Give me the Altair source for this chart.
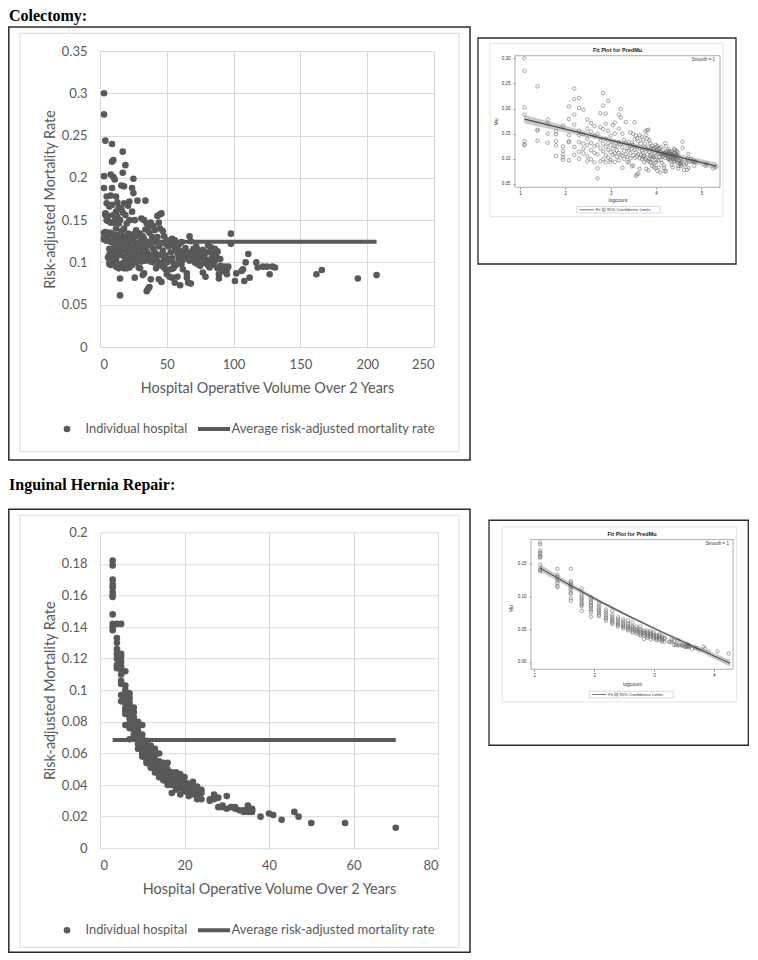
import altair as alt
import pandas as pd

# ---------------- data: Colectomy ----------------
col_volumes = [3, 4, 5, 6, 7, 8, 9, 10, 11, 12,
               13, 14, 15, 16, 17, 18, 19, 20, 21, 22,
               23, 24, 25, 26, 27, 28, 29, 30, 31, 32,
               33, 34, 35, 36, 37, 38, 39, 40, 41, 42,
               43, 44, 45, 46, 47, 48, 49, 50, 51, 52,
               53, 54, 55, 56, 57, 58, 59, 60, 61, 62,
               63, 64, 65, 66, 67, 68, 69, 70, 71, 72,
               73, 74, 75, 76, 77, 78, 79, 80, 81, 82,
               83, 84, 85, 86, 87, 88, 89, 90,
               92, 93, 94, 95, 96, 98,
               101, 102, 106, 107, 108, 109, 111, 112,
               117, 118, 122, 125, 127, 129, 131,
               162, 166, 193, 207]
col_rates = [
    [0.300, 0.275, 0.202, 0.188, 0.135, 0.129, 0.127],
    [0.244, 0.158, 0.156, 0.136],
    [0.178, 0.170, 0.150, 0.132],
    [0.155, 0.149, 0.135, 0.127, 0.106],
    [0.166, 0.125, 0.116, 0.109, 0.103, 0.098],
    [0.204, 0.179, 0.147, 0.135, 0.133, 0.097],
    [0.240, 0.219, 0.188, 0.168, 0.124, 0.108],
    [0.221, 0.201, 0.156, 0.147, 0.133, 0.114, 0.100],
    [0.198, 0.149, 0.130, 0.120, 0.111],
    [0.178, 0.160, 0.140, 0.127, 0.105, 0.095],
    [0.171, 0.154, 0.132, 0.117, 0.099],
    [0.165, 0.146, 0.125, 0.112, 0.093],
    [0.150, 0.128, 0.109, 0.081, 0.061],
    [0.191, 0.163, 0.137, 0.121, 0.095],
    [0.231, 0.206, 0.159, 0.130, 0.115, 0.099],
    [0.190, 0.170, 0.140, 0.124, 0.107, 0.093],
    [0.215, 0.156, 0.131, 0.118, 0.102],
    [0.146, 0.127, 0.113, 0.098, 0.093],
    [0.167, 0.134, 0.120, 0.108],
    [0.172, 0.150, 0.126, 0.111, 0.094],
    [0.125, 0.117, 0.104],
    [0.188, 0.160, 0.133, 0.112, 0.097],
    [0.199, 0.182, 0.129, 0.108],
    [0.150, 0.123, 0.106, 0.082],
    [0.138, 0.116, 0.100],
    [0.173, 0.131, 0.109],
    [0.121, 0.104, 0.094],
    [0.134, 0.117, 0.093],
    [0.152, 0.126, 0.111, 0.101],
    [0.131, 0.120, 0.085],
    [0.150, 0.128, 0.107, 0.087],
    [0.173, 0.139, 0.118, 0.102],
    [0.146, 0.113, 0.066],
    [0.141, 0.124, 0.105, 0.069],
    [0.135, 0.109, 0.071],
    [0.147, 0.120, 0.101, 0.080],
    [0.130, 0.108],
    [0.143, 0.116, 0.100],
    [0.138, 0.112, 0.104],
    [0.124, 0.106, 0.093],
    [0.155, 0.130, 0.101],
    [0.147, 0.119, 0.098, 0.080],
    [0.157, 0.140, 0.109],
    [0.158, 0.123, 0.096, 0.077],
    [0.137, 0.114, 0.100],
    [0.131, 0.105, 0.094],
    [0.122, 0.108, 0.092],
    [0.126, 0.100, 0.086],
    [0.119, 0.104],
    [0.120, 0.103, 0.083],
    [0.112, 0.092],
    [0.128, 0.105, 0.082],
    [0.123, 0.099, 0.093],
    [0.126, 0.118, 0.076],
    [0.115, 0.097],
    [0.120, 0.110, 0.083],
    [0.121, 0.104],
    [0.113, 0.073],
    [0.124, 0.098],
    [0.108, 0.092],
    [0.110, 0.104],
    [0.117, 0.106],
    [0.112, 0.087, 0.082],
    [0.109, 0.076],
    [0.131, 0.102],
    [0.125, 0.108, 0.075],
    [0.113, 0.106],
    [0.116, 0.109],
    [0.104, 0.100],
    [0.119, 0.111],
    [0.115, 0.098],
    [0.107, 0.100],
    [0.113, 0.096],
    [0.110, 0.102],
    [0.115, 0.088],
    [0.108, 0.104],
    [0.099, 0.083],
    [0.112, 0.101],
    [0.120, 0.096],
    [0.103, 0.094],
    [0.118, 0.112],
    [0.106, 0.100],
    [0.110, 0.097],
    [0.116, 0.102],
    [0.108],
    [0.113, 0.093],
    [0.086, 0.081],
    [0.104, 0.096],
    [0.090], [0.095], [0.089], [0.092, 0.086], [0.095], [0.134, 0.122],
    [0.078], [0.087], [0.090], [0.092], [0.078], [0.100], [0.110], [0.082],
    [0.100], [0.094], [0.095], [0.095], [0.086], [0.095], [0.094],
    [0.086], [0.091], [0.081], [0.085],
]
col_avg_volume = [3, 207]
col_avg_rate = [0.1245, 0.1245]
col_fit_log = [1.1, 5.33]
col_fit_mu = [0.179, 0.0855]
col_band_log = [1.1, 3.2, 5.33]
col_band_lo = [0.1715, 0.1296, 0.0795]
col_band_hi = [0.1865, 0.1356, 0.0915]
col_x_ticks = [0, 50, 100, 150, 200, 250]
col_y_ticks = [0, 0.05, 0.1, 0.15, 0.2, 0.25, 0.3, 0.35]
col_sas_x_ticks = [1, 2, 3, 4, 5]
col_sas_y_ticks = [0.05, 0.10, 0.15, 0.20, 0.25, 0.30]

# ---------------- data: Inguinal Hernia Repair ----------------
her_volumes = [3, 4, 5, 6, 7, 8, 9, 10, 11, 12, 13, 14, 15, 16, 17, 18, 19, 20,
               21, 22, 23, 24, 26, 27, 28, 29, 30, 31, 32, 33, 34, 35, 36,
               38, 40, 41, 43, 46, 47, 50, 58, 70]
her_rates = [
    [0.182, 0.179, 0.170, 0.167, 0.165, 0.162, 0.160, 0.159, 0.148, 0.142, 0.140, 0.138],
    [0.142, 0.133, 0.130, 0.126, 0.123, 0.120, 0.116, 0.114],
    [0.142, 0.123, 0.121, 0.118, 0.115, 0.113, 0.110, 0.106, 0.104, 0.097, 0.093],
    [0.112, 0.103, 0.100, 0.097, 0.095, 0.092, 0.089, 0.087, 0.085, 0.078],
    [0.098, 0.095, 0.092, 0.090, 0.087, 0.085, 0.082, 0.079, 0.076, 0.069],
    [0.089, 0.086, 0.083, 0.080, 0.078, 0.075, 0.072, 0.070],
    [0.080, 0.077, 0.074, 0.071, 0.068, 0.066, 0.063],
    [0.078, 0.072, 0.069, 0.066, 0.064, 0.062, 0.060, 0.058],
    [0.068, 0.065, 0.062, 0.060, 0.058, 0.056, 0.054],
    [0.065, 0.062, 0.059, 0.057, 0.055, 0.053, 0.051],
    [0.063, 0.059, 0.056, 0.054, 0.052, 0.050, 0.048],
    [0.060, 0.055, 0.053, 0.051, 0.049, 0.047, 0.045],
    [0.054, 0.051, 0.049, 0.047, 0.045, 0.043],
    [0.054, 0.050, 0.048, 0.046, 0.044, 0.042, 0.040],
    [0.048, 0.046, 0.044, 0.042, 0.040, 0.035],
    [0.048, 0.045, 0.043, 0.041, 0.039, 0.037],
    [0.047, 0.044, 0.042, 0.040, 0.038, 0.034],
    [0.045, 0.042, 0.040, 0.038, 0.036],
    [0.041, 0.039, 0.037, 0.035, 0.033],
    [0.042, 0.040, 0.038, 0.036, 0.034],
    [0.039, 0.037, 0.035, 0.033, 0.031],
    [0.037, 0.035, 0.031],
    [0.031, 0.030],
    [0.034, 0.031],
    [0.032, 0.026],
    [0.027, 0.026],
    [0.033, 0.025],
    [0.026],
    [0.026, 0.025],
    [0.024],
    [0.024, 0.023],
    [0.027, 0.025, 0.023],
    [0.025, 0.024, 0.023],
    [0.020], [0.022], [0.021], [0.018], [0.023], [0.020], [0.016], [0.016], [0.013],
]
her_avg_volume = [3, 70]
her_avg_rate = [0.0685, 0.0685]
her_fit_log = [1.1, 1.6, 2.1, 2.6, 3.1, 3.6, 4.27]
her_fit_mu = [0.143, 0.117, 0.092, 0.069, 0.047, 0.026, -0.002]
her_band_log = [1.1, 1.6, 2.1, 2.6, 3.1, 3.6, 4.27]
her_band_lo = [0.138, 0.1135, 0.090, 0.0675, 0.0455, 0.0235, -0.0065]
her_band_hi = [0.148, 0.1205, 0.094, 0.0705, 0.0485, 0.0285, 0.0025]
her_x_ticks = [0, 20, 40, 60, 80]
her_y_ticks = [0, 0.02, 0.04, 0.06, 0.08, 0.1, 0.12, 0.14, 0.16, 0.18, 0.2]
her_sas_x_ticks = [1, 2, 3, 4]
her_sas_y_ticks = [0.00, 0.05, 0.10, 0.15]

assert len(col_volumes) == len(col_rates)
assert len(her_volumes) == len(her_rates)

# ---------------- styling ----------------
FONT = "Lato"
SAS_FONT = "Liberation Sans"
TXT = "#595959"
GRID = "#d9d9d9"
BOX = "#2b2b2b"


def one(v="x"):
    return pd.DataFrame({"t": [v]})


def text_layer(txt, x, y, **kw):
    return alt.Chart(one(txt)).mark_text(**kw).encode(
        x=alt.value(x), y=alt.value(y), text="t:N")


def rect_layer(x1, x2, y1, y2, stroke, sw, fill=None):
    kw = dict(stroke=stroke, strokeWidth=sw)
    if fill is None:
        kw["fillOpacity"] = 0
    else:
        kw["fill"] = fill
    return alt.Chart(one()).mark_rect(**kw).encode(
        x=alt.value(x1), x2=alt.value(x2), y=alt.value(y1), y2=alt.value(y2))


def anchor_layer(x, y):
    # invisible 1px rect that fixes the top-left corner of a row's bounds
    return alt.Chart(one()).mark_rect(fillOpacity=0, strokeOpacity=0).encode(
        x=alt.value(x), x2=alt.value(x + 1), y=alt.value(y), y2=alt.value(y + 1))


def flatten(vols, rates):
    return pd.DataFrame([(v, r) for v, rs in zip(vols, rates) for r in rs],
                        columns=["volume", "rate"])


def excel_panel(df, avg_v, avg_r, xt, yt, w, h, heading, L):
    avg = pd.DataFrame({"volume": avg_v, "rate": avg_r})
    xs = alt.Scale(domain=[xt[0], xt[-1]], nice=False, zero=False)
    ys = alt.Scale(domain=[yt[0], yt[-1]], nice=False, zero=False)
    xax = alt.Axis(values=xt, grid=True, gridColor=GRID, gridWidth=1, domain=False,
                   ticks=False, labelFont=FONT, labelFontSize=13, labelColor=TXT,
                   labelPadding=11, title="Hospital Operative Volume Over 2 Years",
                   titleFont=FONT, titleFontSize=14.4, titleFontWeight="normal",
                   titleColor=TXT, titleY=41, titleBaseline="middle")
    yax = alt.Axis(values=yt, format="~g", grid=True, gridColor=GRID, gridWidth=1,
                   domain=False, ticks=False, labelFont=FONT, labelFontSize=13,
                   labelColor=TXT, labelPadding=13,
                   title="Risk-adjusted Mortality Rate", titleFont=FONT,
                   titleFontSize=14.4, titleFontWeight="normal", titleColor=TXT,
                   titleX=-50, titleBaseline="middle")
    pts = alt.Chart(df).mark_circle(size=44, color=TXT, opacity=1).encode(
        x=alt.X("volume:Q", scale=xs, axis=xax),
        y=alt.Y("rate:Q", scale=ys, axis=yax))
    line = alt.Chart(avg).mark_line(color=TXT, strokeWidth=4).encode(
        x=alt.X("volume:Q", scale=xs, axis=xax),
        y=alt.Y("rate:Q", scale=ys, axis=yax))
    ly = L["legend_y"]
    deco = [
        rect_layer(L["ox1"], L["ox2"], L["oy1"], L["oy2"], BOX, 1.5),
        rect_layer(L["ix1"], L["ix2"], L["iy1"], L["iy2"], GRID, 1),
        text_layer(heading, L["hx"], L["hy"], align="left", baseline="alphabetic",
                   font="Liberation Serif", fontWeight="bold", fontSize=16, color="black"),
        alt.Chart(one()).mark_circle(size=44, color=TXT, opacity=1).encode(
            x=alt.value(-33), y=alt.value(ly)),
        text_layer("Individual hospital", -14.5, ly, align="left", baseline="middle",
                   font=FONT, fontSize=12.8, color=TXT),
        alt.Chart(one()).mark_rule(color=TXT, strokeWidth=4).encode(
            x=alt.value(98), x2=alt.value(130), y=alt.value(ly)),
        text_layer("Average risk-adjusted mortality rate", 131.5, ly, align="left",
                   baseline="middle", font=FONT, fontSize=13, color=TXT),
        anchor_layer(-92, L["anchor_y"]),
    ]
    return alt.layer(pts, line, *deco).properties(width=w, height=h)


def sas_panel(df, fit_log, fit_mu, band_log, band_lo, band_hi, xdom, ydom, xt, yt,
              w, h, P):
    fit = pd.DataFrame({"logcount": fit_log, "rate": fit_mu})
    band = pd.DataFrame({"logcount": band_log, "lo": band_lo, "hi": band_hi})
    xs = alt.Scale(domain=xdom, nice=False, zero=False)
    ys = alt.Scale(domain=ydom, nice=False, zero=False)
    xax = alt.Axis(values=xt, format="d", grid=False, domain=False, ticks=True,
                   tickSize=2, tickWidth=0.6, tickColor="#555", labelFont=SAS_FONT,
                   labelFontSize=4.5, labelColor="#333", labelPadding=1,
                   title="logcount", titleFont=SAS_FONT, titleFontSize=5,
                   titleFontWeight="normal", titleColor="#333", titleY=P["xty"],
                   titleBaseline="middle")
    yax = alt.Axis(values=yt, format=".2f", grid=False, domain=False, ticks=True,
                   tickSize=2, tickWidth=0.6, tickColor="#555", labelFont=SAS_FONT,
                   labelFontSize=4.5, labelColor="#333", labelPadding=3,
                   title="Mu", titleFont=SAS_FONT, titleFontSize=5,
                   titleFontWeight="normal", titleColor="#333", titleX=P["ytx"],
                   titleY=P["yty"], titleBaseline="middle")
    area = alt.Chart(band).mark_area(color="#c4c4c4", opacity=0.85, stroke="#9a9a9a",
                                     strokeWidth=0.4).encode(
        x=alt.X("logcount:Q", scale=xs, axis=xax),
        y=alt.Y("lo:Q", scale=ys, axis=yax),
        y2="hi:Q")
    pts = alt.Chart(df).transform_calculate(
        logcount="log(datum.volume)").mark_point(
        shape="circle", filled=False, size=12, color="#6a6a6a", strokeWidth=0.65,
        opacity=0.9).encode(
        x=alt.X("logcount:Q", scale=xs, axis=xax),
        y=alt.Y("rate:Q", scale=ys, axis=yax))
    line = alt.Chart(fit).mark_line(color="#4a4a4a", strokeWidth=1.1).encode(
        x=alt.X("logcount:Q", scale=xs, axis=xax),
        y=alt.Y("rate:Q", scale=ys, axis=yax))
    ft = P["ftop"]
    lx1, lx2, ly1, ly2 = P["legend"]
    lyc = (ly1 + ly2) / 2
    deco = [
        rect_layer(P["ox1"], P["ox2"], P["oy1"], P["oy2"], BOX, 1.3),
        rect_layer(P["ix1"], P["ix2"], P["iy1"], P["iy2"], "#dddddd", 0.8),
        rect_layer(0, w, ft, h, "#8a8a8a", 0.7),
        text_layer("Fit Plot for PredMu", w / 2, P["ty"], align="center",
                   baseline="middle", font=SAS_FONT, fontWeight="bold",
                   fontSize=5.5, color="#222"),
        text_layer("Smooth = 1", P["sx"], P["sy"], align="right", baseline="middle",
                   font=SAS_FONT, fontSize=4.5, color="#333"),
        rect_layer(lx1, lx2, ly1, ly2, "#b0b0b0", 0.5),
        alt.Chart(one()).mark_rule(color="#555", strokeWidth=0.8).encode(
            x=alt.value(lx1 + 2.5), x2=alt.value(lx1 + 17), y=alt.value(lyc)),
        text_layer("Fit", lx1 + 19, lyc, align="left", baseline="middle",
                   font=SAS_FONT, fontSize=4.3, color="#333"),
        rect_layer(lx1 + 25.5, lx1 + 28.5, lyc - 1.5, lyc + 1.5, "#777", 0.4,
                   fill="#c4c4c4"),
        text_layer("95% Confidence Limits", lx1 + 30, lyc, align="left",
                   baseline="middle", font=SAS_FONT, fontSize=4.3, color="#333"),
    ]
    return alt.layer(area, pts, line, *deco).properties(width=w, height=h)


col_df = flatten(col_volumes, col_rates)
her_df = flatten(her_volumes, her_rates)

A = excel_panel(col_df, col_avg_volume, col_avg_rate, col_x_ticks, col_y_ticks,
                334, 296, "Colectomy:",
                dict(ox1=-91.2, ox2=370, oy1=-24, oy2=409,
                     ix1=-80, ix2=359, iy1=-17.7, iy2=400.7,
                     hx=-91, hy=-30, legend_y=378, anchor_y=-43))
B = sas_panel(col_df, col_fit_log, col_fit_mu, col_band_log, col_band_lo,
              col_band_hi, [0.89, 5.41], [0.0434, 0.3145], col_sas_x_ticks,
              col_sas_y_ticks, 205, 136.3,
              dict(ftop=4.7, ox1=-37, ox2=221, oy1=-13, oy2=213,
                   ix1=-25, ix2=208, iy1=-7.7, iy2=165.7,
                   ty=-1, sx=200, sy=9, xty=11.7, ytx=-19.3, yty=70.5,
                   legend=(61.7, 145, 155.5, 162)))
C = excel_panel(her_df, her_avg_volume, her_avg_rate, her_x_ticks, her_y_ticks,
                338, 316, "Inguinal Hernia Repair:",
                dict(ox1=-91.2, ox2=370, oy1=-23, oy2=420,
                     ix1=-80, ix2=359, iy1=-17, iy2=415,
                     hx=-91, hy=-42, legend_y=398, anchor_y=-60))
D = sas_panel(her_df, her_fit_log, her_fit_mu, her_band_log, her_band_lo,
              her_band_hi, [0.945, 4.32], [-0.0111, 0.1977], her_sas_x_ticks,
              her_sas_y_ticks, 202, 137,
              dict(ftop=7.3, ox1=-42, ox2=217.3, oy1=-12, oy2=213,
                   ix1=-28.7, ix2=205.7, iy1=-5.3, iy2=169.7,
                   ty=1.3, sx=198, sy=11.3, xty=14.3, ytx=-21, yty=76,
                   legend=(58.3, 142.3, 159, 165.5)))

row1 = alt.hconcat(A, B, spacing=81, bounds="flush")
row2 = alt.hconcat(C, D, spacing=93, bounds="flush")
# row 1 content ends 409.75px below its plot top (page 460.75); row 2 bounds
# start 60px above its plot top, which should sit at page 532.
chart = alt.vconcat(row1, row2, spacing=11.25, bounds="full").properties(
    padding=0,
    background="white",
).configure_view(stroke=None)

chart.save("out.html", embed_options={"renderer": "svg", "actions": False})
